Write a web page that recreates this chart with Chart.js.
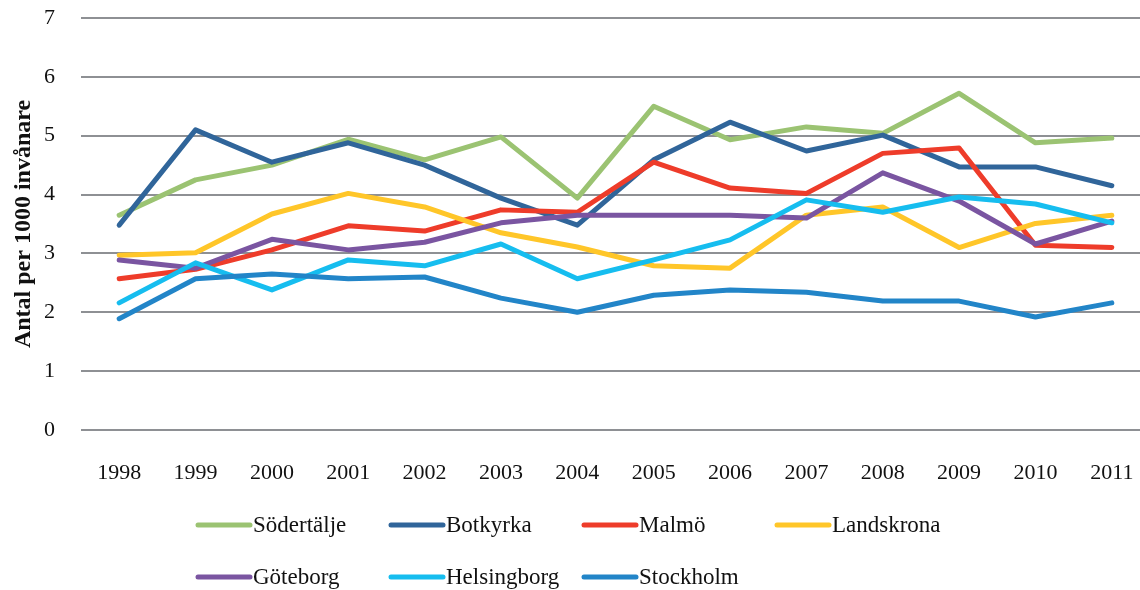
<!DOCTYPE html>
<html>
<head>
<meta charset="utf-8">
<script src="https://cdn.jsdelivr.net/npm/chart.js@4"></script>
<style>
  html, body { margin: 0; padding: 0; background: #fff; overflow: hidden; }
  #wrap { width: 1150px; height: 590px; }
</style>
</head>
<body>
<div id="wrap"><canvas id="myChart" width="1150" height="590"></canvas></div>
<script>
// years on the x axis
var years = ['1998','1999','2000','2001','2002','2003','2004','2005','2006','2007','2008','2009','2010','2011'];

// values per 1000 inhabitants
var sodertalje  = [3.65, 4.25, 4.50, 4.94, 4.59, 4.98, 3.94, 5.50, 4.93, 5.15, 5.04, 5.72, 4.88, 4.96];
var botkyrka    = [3.48, 5.10, 4.55, 4.88, 4.50, 3.94, 3.48, 4.59, 5.23, 4.74, 5.01, 4.47, 4.47, 4.15];
var malmo       = [2.57, 2.73, 3.06, 3.47, 3.38, 3.74, 3.70, 4.55, 4.11, 4.02, 4.70, 4.79, 3.14, 3.10];
var landskrona  = [2.97, 3.01, 3.67, 4.02, 3.79, 3.35, 3.11, 2.79, 2.75, 3.65, 3.79, 3.10, 3.51, 3.65];
var goteborg    = [2.89, 2.75, 3.24, 3.06, 3.19, 3.52, 3.65, 3.65, 3.65, 3.60, 4.37, 3.89, 3.16, 3.55];
var helsingborg = [2.16, 2.84, 2.38, 2.89, 2.79, 3.16, 2.57, 2.89, 3.23, 3.91, 3.70, 3.96, 3.84, 3.52];
var stockholm   = [1.89, 2.57, 2.65, 2.57, 2.60, 2.24, 2.00, 2.29, 2.38, 2.34, 2.19, 2.19, 1.92, 2.16];

var names  = ['Södertälje', 'Botkyrka', 'Malmö', 'Landskrona', 'Göteborg', 'Helsingborg', 'Stockholm'];
var series = [sodertalje, botkyrka, malmo, landskrona, goteborg, helsingborg, stockholm];
var colors = ['#9BC372', '#30659A', '#EE3C2A', '#FFC629', '#7A55A1', '#16BDEF', '#2285C8'];

var yTicks = { min: 0, max: 7, step: 1 };

var serif = "'Liberation Serif', 'DejaVu Serif', serif";

// legend drawn by hand: 4 columns, 2 rows under the plot
var legendGrid = {
  id: 'legendGrid',
  afterDraw: function (chart) {
    var ctx = chart.ctx;
    var x0 = 198, colW = 193, y0 = 525, rowH = 52, lineW = 52;
    ctx.save();
    ctx.font = '23px ' + serif;
    ctx.textBaseline = 'middle';
    ctx.fillStyle = '#111';
    chart.data.datasets.forEach(function (ds, i) {
      var col = i % 4, row = Math.floor(i / 4);
      var x = x0 + col * colW, y = y0 + row * rowH;
      ctx.strokeStyle = ds.borderColor;
      ctx.lineWidth = 5;
      ctx.lineCap = 'round';
      ctx.beginPath();
      ctx.moveTo(x, y);
      ctx.lineTo(x + lineW, y);
      ctx.stroke();
      ctx.fillText(ds.label, x + lineW + 3, y + 1);
    });
    ctx.restore();
  }
};

var ctx = document.getElementById('myChart').getContext('2d');
var myChart = new Chart(ctx, {
  type: 'line',
  data: {
    labels: years,
    datasets: series.map(function (vals, i) {
      return {
        label: names[i],
        data: vals,
        borderColor: colors[i],
        backgroundColor: colors[i],
        borderWidth: 5,
        borderCapStyle: 'round',
        borderJoinStyle: 'round',
        pointRadius: 0,
        tension: 0,
        fill: false,
        order: series.length - i // later series on top, like the original
      };
    })
  },
  options: {
    responsive: false,
    animation: false,
    layout: { padding: { top: 18, left: 0, right: 0, bottom: 0 } },
    plugins: {
      legend: { display: false },
      tooltip: { enabled: false }
    },
    scales: {
      x: {
        offset: true,
        grid: { display: false },
        border: { display: false },
        ticks: {
          color: '#111',
          font: { family: serif, size: 22 },
          padding: 22,
          maxRotation: 0,
          autoSkip: false
        },
        afterFit: function (scale) {
          scale.height = 160;
          scale.paddingLeft = 0;
          scale.paddingRight = 0;
        }
      },
      y: {
        min: yTicks.min,
        max: yTicks.max,
        grid: { color: '#8E9094', lineWidth: 2, drawTicks: false },
        border: { display: false },
        ticks: {
          stepSize: yTicks.step,
          color: '#111',
          font: { family: serif, size: 22 },
          padding: 26
        },
        title: {
          display: true,
          text: 'Antal per 1000 invånare',
          color: '#111',
          font: { family: serif, size: 24, weight: 'bold' },
          padding: { top: 9, bottom: 0 }
        },
        afterFit: function (scale) {
          scale.width = 81;
          scale.paddingTop = 0;
          scale.paddingBottom = 0;
        }
      }
    }
  },
  plugins: [legendGrid]
});
</script>
</body>
</html>
